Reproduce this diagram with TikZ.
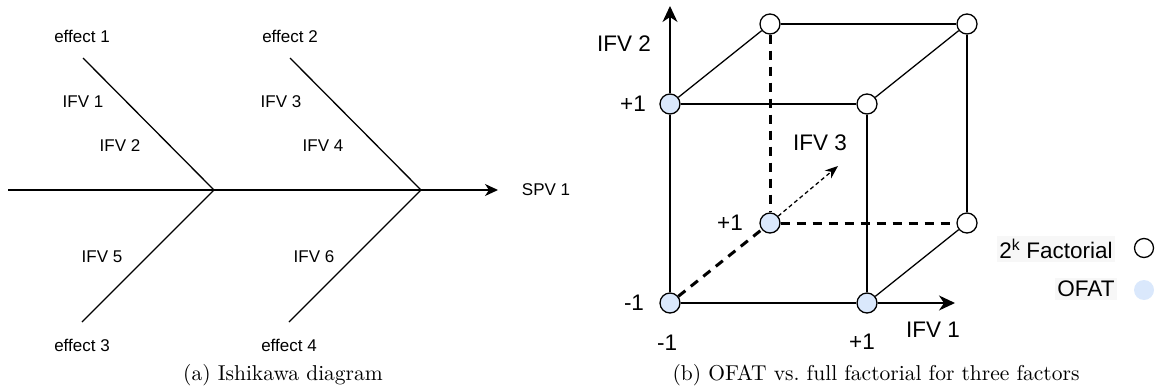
\documentclass[tikz,border=0pt]{standalone}
\usepackage{fontspec}
\newfontfamily\sansf{Liberation Sans}
\newfontfamily\capf{lmroman10-regular}[Extension=.otf]
\usetikzlibrary{arrows.meta}
\definecolor{ofat}{HTML}{DAE8FC}
\definecolor{legbg}{HTML}{F7F7F7}
\begin{document}
\begin{tikzpicture}[x=1pt,y=-1pt,
  ln/.style={line width=1.3pt, line cap=butt},
  thickdash/.style={line width=3pt, dash pattern=on 9pt off 7pt},
  thindash/.style={line width=1.3pt, dash pattern=on 4pt off 3pt},
  tipL/.style={-{Stealth[length=13pt,width=12pt,inset=4pt]}},
  tipR/.style={-{Stealth[length=16pt,width=15pt,inset=5pt]}},
  tipS/.style={-{Stealth[length=13pt,width=10pt,inset=4pt]}},
  lbl/.style={inner sep=0pt, font=\sansf\fontsize{17}{20}\selectfont},
  rlbl/.style={inner sep=0pt, font=\sansf\fontsize{22.5}{26}\selectfont},
  captext/.style={inner sep=0pt, font=\capf\fontsize{21.5}{25}\selectfont},
  fac/.style={circle, draw, line width=1.3pt, fill=white, minimum size=20pt, inner sep=0pt},
  ofatnode/.style={fac, fill=ofat},
]
\useasboundingbox (0,0) rectangle (1158,391);

% ---------- (a) Ishikawa diagram ----------
\coordinate (L0) at (8,190);
\coordinate (J1) at (214,190);
\coordinate (J2) at (421,190);
\coordinate (Ltip) at (498,190);
\coordinate (U1) at (83,58);
\coordinate (U2) at (290,58);
\coordinate (D1) at (82,322);
\coordinate (D2) at (289,322);
\draw[ln] (L0) -- (J1);
\draw[ln] (J1) -- (J2);
\draw[ln, tipL] (J2) -- (Ltip);
\draw[ln] (U1) -- (J1);
\draw[ln] (J1) -- (D1);
\draw[ln] (U2) -- (J2);
\draw[ln] (J2) -- (D2);

\node[lbl] (e1) at (82,36) {effect 1};
\node[lbl] (e2) at (290,36) {effect 2};
\node[lbl] (e3) at (82,345) {effect 3};
\node[lbl] (e4) at (289,345) {effect 4};
\node[lbl] (i1) at (83,102) {IFV 1};
\node[lbl] (i2) at (120,146) {IFV 2};
\node[lbl] (i3) at (281,102) {IFV 3};
\node[lbl] (i4) at (323,146) {IFV 4};
\node[lbl] (i5) at (102,257) {IFV 5};
\node[lbl] (i6) at (314,257) {IFV 6};
\node[lbl] (spv) at (546,190) {SPV 1};
\node[captext] (capa) at (283,375) {(a) Ishikawa diagram};

% ---------- (b) OFAT vs full factorial ----------
\node[ofatnode] (fbl) at (670,303) {};
\node[ofatnode] (fbr) at (867,303) {};
\node[ofatnode] (ftl) at (670,104) {};
\node[fac] (ftr) at (867,104) {};
\node[fac] (btl) at (770,24) {};
\node[fac] (btr) at (967,24) {};
\node[ofatnode] (bbl) at (770,223) {};
\node[fac] (bbr) at (967,223) {};
\coordinate (ytip) at (670,6);
\coordinate (xtip) at (955,303);
\coordinate (ztip) at (838,166);

\draw[ln] (fbl) -- (ftl);
\draw[ln, tipR] (ftl) -- (ytip);
\draw[ln] (fbl) -- (fbr);
\draw[ln, tipR] (fbr) -- (xtip);
\draw[ln] (ftl) -- (ftr);
\draw[ln] (ftl) -- (btl);
\draw[ln] (btl) -- (btr);
\draw[ln] (ftr) -- (btr);
\draw[ln] (ftr) -- (fbr);
\draw[ln] (btr) -- (bbr);
\draw[ln] (fbr) -- (bbr);
\draw[thickdash] (btl) -- (bbl);
\draw[thickdash] (bbl) -- (bbr);
\draw[thickdash] (fbl) -- (bbl);
\draw[thindash, tipS] (bbl) -- (ztip);

\node[rlbl] (lifv2) at (624,44) {IFV 2};
\node[rlbl] (lp1a) at (633,104) {+1};
\node[rlbl] (lm1a) at (634,303) {-1};
\node[rlbl] (lp1b) at (730,223) {+1};
\node[rlbl] (lm1b) at (667,343) {-1};
\node[rlbl] (lp1c) at (862,342) {+1};
\node[rlbl] (lifv1) at (933,330) {IFV 1};
\node[rlbl] (lifv3) at (820,143) {IFV 3};

\node[rlbl, fill=legbg, inner xsep=2pt, inner ysep=3pt] (legf) at (1056,249) {2\textsuperscript{k} Factorial};
\node[rlbl, fill=legbg, inner xsep=2pt, inner ysep=3pt] (lego) at (1086,289) {OFAT};
\node[fac, minimum size=19pt] (legw) at (1144,248) {};
\node[circle, fill=ofat, minimum size=20pt, inner sep=0pt] (legb) at (1144,290) {};

\node[captext] (capb) at (876,375) {(b) OFAT vs.\ full factorial for three factors};
\end{tikzpicture}
\end{document}
